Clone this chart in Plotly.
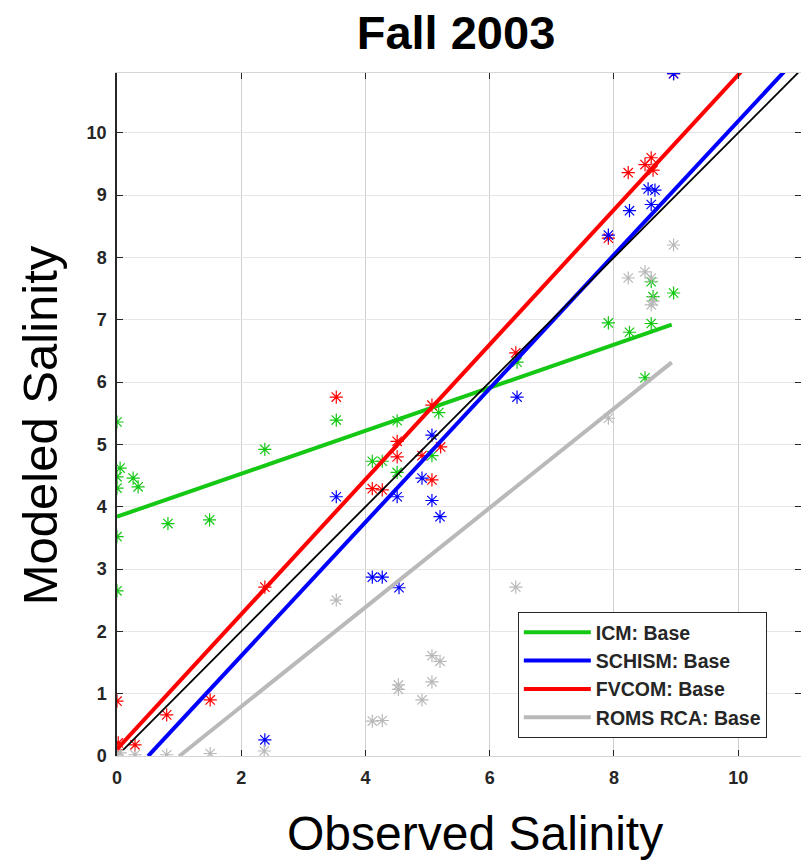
import plotly.graph_objects as go

# ---------------- data ----------------
icm_obs = [0, 0.05, 0, 0, 0.26, 0.34, 0, 0, 0.82, 1.49, 2.38, 3.53, 4.11, 4.27, 4.51, 4.51,
           5.07, 5.18, 6.44, 7.91, 8.25, 8.6, 8.5, 8.6, 8.63, 8.96]
icm_mod = [5.36, 4.62, 4.48, 4.30, 4.46, 4.32, 3.52, 2.65, 3.73, 3.79, 4.92, 5.39, 4.73, 4.73, 4.55, 5.38,
           4.82, 5.51, 6.32, 6.95, 6.80, 6.94, 6.07, 7.61, 7.37, 7.43]

schism_obs = [2.38, 3.53, 4.11, 4.27, 4.54, 4.51, 4.91, 5.07, 5.07, 5.2, 6.44, 7.91, 8.25, 8.55, 8.66, 8.6, 8.96]
schism_mod = [0.26, 4.16, 2.87, 2.87, 2.70, 4.16, 4.46, 5.15, 4.10, 3.84, 5.76, 8.36, 8.75, 9.10, 9.08, 8.85, 10.95]

fvcom_obs = [0, 0.02, 0.29, 0, 0.8, 1.5, 2.38, 3.53, 4.11, 4.27, 4.51, 4.51, 4.91, 5.07, 5.07, 5.21,
             6.42, 7.91, 8.23, 8.5, 8.6, 8.63, 8.96]
fvcom_mod = [0.88, 0.21, 0.18, 0.10, 0.66, 0.90, 2.71, 5.76, 4.29, 4.27, 5.05, 4.80, 4.82, 5.63, 4.43, 4.96,
             6.47, 8.31, 9.36, 9.49, 9.60, 9.40, 10.95]

roms_obs = [0, 0.05, 0.29, 0.8, 1.5, 2.37, 3.53, 4.11, 4.27, 4.53, 4.53, 4.91, 5.07, 5.07, 5.2,
            6.42, 7.91, 8.23, 8.5, 8.6, 8.6, 8.63, 8.96]
roms_mod = [0.02, 0.05, 0.02, 0.02, 0.04, 0.08, 2.50, 0.56, 0.57, 1.14, 1.07, 0.90, 1.19, 1.61, 1.52,
            2.71, 5.42, 7.67, 7.77, 7.67, 7.24, 7.30, 8.20]

# regression lines (slope, intercept, x-extent)
fit_names = ["ICM: Base", "SCHISM: Base", "FVCOM: Base", "ROMS RCA: Base"]
fit_slope = [0.345, 1.0726, 1.082, 0.797]
fit_intercept = [3.84, -0.538, 0.11, -0.80]
fit_x0 = [0.0, 0.5, 0.0, 1.0]
fit_x1 = [8.93, 11.2, 11.2, 8.93]

one_to_one = [0.1, 11.2]

x_ticks = [0, 2, 4, 6, 8, 10]
y_ticks = [0, 1, 2, 3, 4, 5, 6, 7, 8, 9, 10]

# ---------------- styling ----------------
colors = ["rgb(20,200,20)", "rgb(0,0,255)", "rgb(255,0,0)", "rgb(185,185,185)"]
FONT = "Liberation Sans, Arial, sans-serif"
W, H = 803, 860
L, T, B = 117, 73, 104

fig = go.Figure()

series = [
    (icm_obs, icm_mod, colors[0]),
    (fvcom_obs, fvcom_mod, colors[2]),
    (schism_obs, schism_mod, colors[1]),
    (roms_obs, roms_mod, colors[3]),
]
for xs, ys, c in series:
    fig.add_trace(go.Scatter(
        x=xs, y=ys, mode="markers", showlegend=False, hoverinfo="skip",
        marker=dict(symbol="asterisk-open", size=11, color=c, line=dict(color=c, width=1.2)),
    ))

for i, name in enumerate(fit_names):
    xs = [fit_x0[i], fit_x1[i]]
    ys = [fit_slope[i] * x + fit_intercept[i] for x in xs]
    fig.add_trace(go.Scatter(
        x=xs, y=ys, mode="lines", name=name,
        line=dict(color=colors[i], width=4),
    ))

fig.add_trace(go.Scatter(
    x=one_to_one, y=one_to_one, mode="lines", showlegend=False,
    line=dict(color="black", width=1.8),
))

pw = W - L
ph = H - T - B

fig.update_layout(
    width=W, height=H,
    margin=dict(l=L, r=0, t=T, b=B),
    paper_bgcolor="white", plot_bgcolor="white",
    font=dict(family=FONT, color="#262626"),
    title=dict(text="<b>Fall 2003</b>", x=(457 - L) / pw, xref="paper", xanchor="center",
               y=(H - 33) / H, yanchor="middle",
               font=dict(size=47, color="black", family=FONT)),
    legend=dict(
        x=(519 - L) / pw, y=(756 - 612) / ph, xanchor="left", yanchor="top",
        bgcolor="white", bordercolor="#262626", borderwidth=1,
        font=dict(size=19.5, family=FONT, color="#262626", weight="bold"),
        itemwidth=67, tracegroupgap=0,
    ),
)

fig.update_xaxes(
    range=[0, pw / 62.3], tickvals=x_ticks, ticktext=[str(v) for v in x_ticks],
    showgrid=True, gridcolor="#cfcfcf", gridwidth=1, zeroline=False,
    showline=True, linecolor="#d6d6d6", linewidth=1, mirror="ticks",
    ticks="inside", ticklen=6, tickcolor="#262626", ticklabelstandoff=5,
    tickfont=dict(size=18, family=FONT, color="#262626", weight="bold"),
)
fig.update_yaxes(
    range=[0, 10.96], tickvals=y_ticks, ticktext=[str(v) for v in y_ticks],
    showgrid=True, gridcolor="#e6e6e6", gridwidth=1, zeroline=False,
    showline=True, linecolor="#262626", linewidth=1.5, mirror="ticks",
    ticks="inside", ticklen=6, tickcolor="#262626", ticklabelstandoff=5,
    tickfont=dict(size=18, family=FONT, color="#262626", weight="bold"),
)

fig.add_annotation(text="Observed Salinity", xref="paper", yref="paper",
                   x=(476 - L) / pw, y=(756 - 833) / ph, xanchor="center", yanchor="middle",
                   showarrow=False, font=dict(size=48, family=FONT, color="black"))
fig.add_annotation(text="Modeled Salinity", xref="paper", yref="paper",
                   x=(40 - L) / pw, y=(756 - 425) / ph, xanchor="center", yanchor="middle",
                   textangle=-90, showarrow=False, font=dict(size=49, family=FONT, color="black"))

fig.write_html(
    "out.html",
    config={"displayModeBar": False},
    post_script="document.body.style.margin='0';document.body.style.overflow='hidden';",
)
